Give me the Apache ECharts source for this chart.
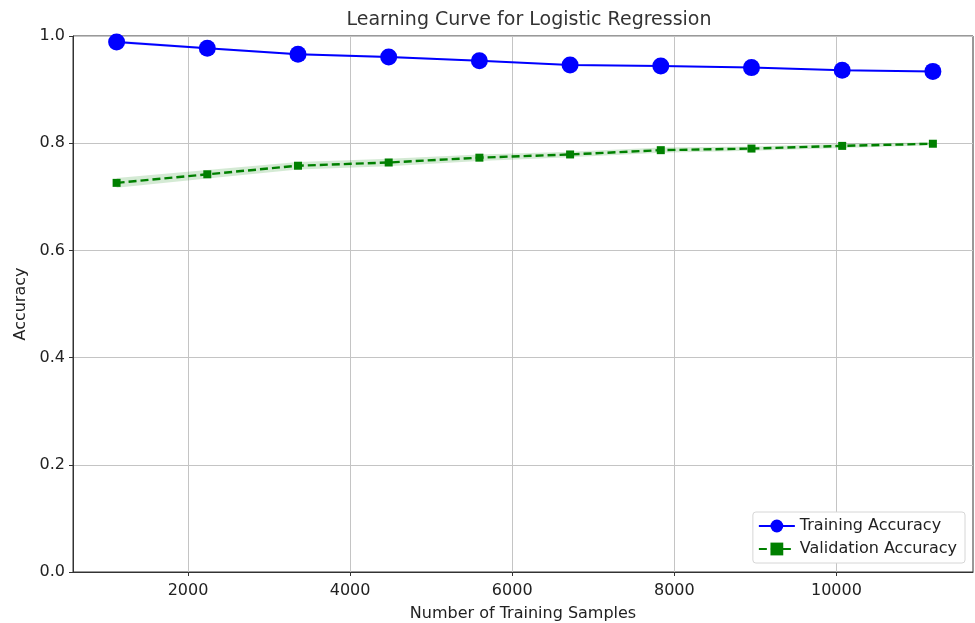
<!DOCTYPE html>
<html>
<head>
<meta charset="utf-8">
<script src="https://cdn.jsdelivr.net/npm/echarts@6/dist/echarts.min.js"></script>
<style>html,body{margin:0;padding:0;background:#fff}#c{width:975px;height:623px}</style>
</head>
<body>
<div id="c"></div>
<script>
const trainSizes = [1119, 2238, 3357, 4476, 5595, 6714, 7833, 8952, 10071, 11190];
const trainMean = [0.989, 0.977, 0.966, 0.961, 0.954, 0.946, 0.944, 0.941, 0.936, 0.934];
const trainStd  = [0.003, 0.002, 0.002, 0.002, 0.001, 0.001, 0.001, 0.001, 0.001, 0.001];
const valMean = [0.726, 0.742, 0.758, 0.764, 0.773, 0.779, 0.787, 0.790, 0.795, 0.799];
const valStd  = [0.009, 0.008, 0.007, 0.007, 0.006, 0.005, 0.005, 0.004, 0.004, 0.003];
const xTicks = [2000, 4000, 6000, 8000, 10000];

const FONT = 'DejaVu Sans';
const pairs = (ys) => trainSizes.map((x, i) => [x, ys[i]]);
const bandData = (m, s) => trainSizes.map((x, i) => [x, m[i] - s[i], m[i] + s[i]]);

function bandSeries(name, m, s, color) {
  const d = bandData(m, s);
  return {
    name: name, type: 'custom', silent: true, z: 1,
    data: d,
    encode: {x: 0, y: [1, 2]},
    renderItem: function (params, api) {
      if (params.dataIndex !== 0) return null;
      const up = d.map(p => api.coord([p[0], p[2]]));
      const lo = d.map(p => api.coord([p[0], p[1]])).reverse();
      return {
        type: 'polygon',
        shape: {points: up.concat(lo)},
        style: {fill: color, stroke: null}
      };
    }
  };
}

const chart = echarts.init(document.getElementById('c'), null, {renderer: 'canvas'});
chart.setOption({
  animation: false,
  backgroundColor: '#fff',
  textStyle: {fontFamily: FONT},
  title: {
    text: 'Learning Curve for Logistic Regression',
    left: 524, top: 6, textAlign: 'center',
    textStyle: {fontFamily: FONT, fontSize: 19, fontWeight: 'normal', color: '#333'}
  },
  grid: {left: 73, right: 2, top: 36, bottom: 51, show: true, borderColor: '#333', borderWidth: 1,
         containLabel: false, outerBoundsMode: 'none'},
  legend: {
    data: ['Training Accuracy', 'Validation Accuracy'],
    orient: 'vertical', right: 10, bottom: 60,
    backgroundColor: '#fff', borderColor: '#d6d6d6', borderWidth: 1, borderRadius: 3,
    padding: [6, 8, 6, 5], itemGap: 7, itemWidth: 36, itemHeight: 16,
    textStyle: {fontFamily: FONT, fontSize: 16, color: '#222'}
  },
  xAxis: {
    type: 'value', min: 581, max: 11685,
    name: 'Number of Training Samples', nameLocation: 'middle', nameGap: 34,
    nameTextStyle: {fontFamily: FONT, fontSize: 16, color: '#222'},
    axisLine: {show: true, onZero: false, lineStyle: {color: '#333'}},
    axisTick: {show: true, customValues: xTicks, length: 4, lineStyle: {color: '#333'}},
    axisLabel: {customValues: xTicks, fontFamily: FONT, fontSize: 16, color: '#222', margin: 11, formatter: v => String(v)},
    splitLine: {show: true, lineStyle: {color: '#c4c4c4', width: 1}}
  },
  yAxis: {
    type: 'value', min: 0, max: 1, interval: 0.2,
    name: 'Accuracy', nameLocation: 'middle', nameGap: 42, nameRotate: 90,
    nameTextStyle: {fontFamily: FONT, fontSize: 16, color: '#222'},
    axisLine: {show: true, lineStyle: {color: '#333'}},
    axisTick: {show: true, length: 4, lineStyle: {color: '#333'}},
    axisLabel: {fontFamily: FONT, fontSize: 16, color: '#222', margin: 8, formatter: v => v.toFixed(1)},
    splitLine: {show: true, lineStyle: {color: '#c4c4c4', width: 1}}
  },
  series: [
    bandSeries('trainBand', trainMean, trainStd, 'rgba(0,0,255,0.12)'),
    bandSeries('valBand', valMean, valStd, 'rgba(0,128,0,0.17)'),
    {name: 'Training Accuracy', type: 'line', data: pairs(trainMean), clip: false,
     symbol: 'circle', symbolSize: 17, itemStyle: {color: '#0000ff'},
     lineStyle: {color: '#0000ff', width: 2}, z: 3},
    {name: 'Validation Accuracy', type: 'line', data: pairs(valMean), clip: false,
     symbol: 'rect', symbolSize: 8, itemStyle: {color: '#008000'},
     lineStyle: {color: '#008000', width: 2.4, type: [8, 4]}, z: 3}
  ]
});
</script>
</body>
</html>
